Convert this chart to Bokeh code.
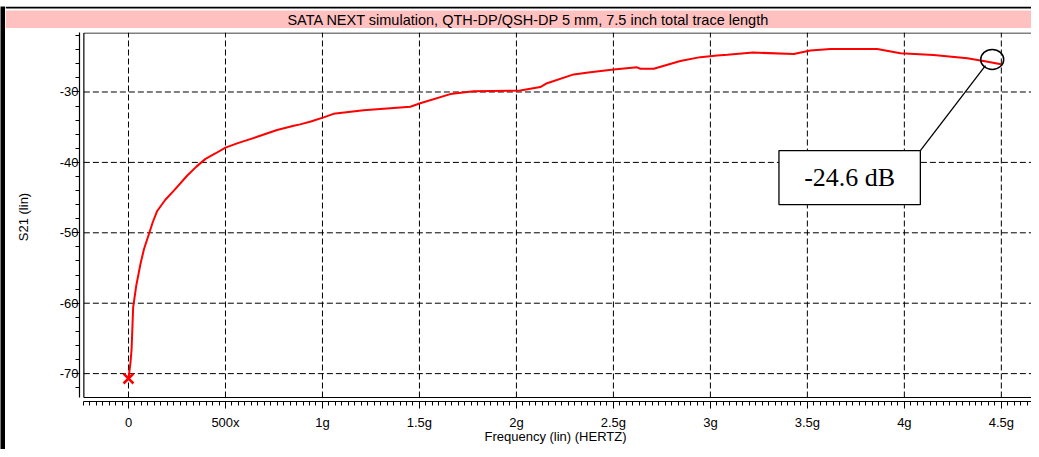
import numpy as np
from bokeh.plotting import figure
from bokeh.layouts import column, row
from bokeh.models import Range1d, FixedTicker, ColumnDataSource
from bokeh.core.properties import value
from bokeh.embed import file_html
from bokeh.resources import INLINE

# ---------------- data ----------------
title_text = "SATA NEXT simulation, QTH-DP/QSH-DP 5 mm, 7.5 inch total trace length"
x_label = "Frequency (lin) (HERTZ)"
y_label = "S21 (lin)"

freq_ghz = [0.0, 0.01, 0.016, 0.024, 0.04, 0.062, 0.08, 0.105, 0.125, 0.148,
            0.19, 0.234, 0.302, 0.35, 0.397, 0.45, 0.5, 0.56, 0.66, 0.766,
            0.852, 0.885, 0.94, 1.006, 1.057, 1.212, 1.453, 1.504, 1.659, 1.779,
            2.02, 2.123, 2.158, 2.295, 2.381, 2.501, 2.622, 2.639, 2.708, 2.845,
            2.948, 3.035, 3.088, 3.22, 3.43, 3.515, 3.62, 3.86, 3.98, 4.15,
            4.325, 4.43, 4.505]
s21_db = [-70.7, -68.5, -66.5, -60.6, -57.5, -54.4, -52.3, -50.2, -48.5, -46.9,
          -45.3, -44.0, -41.9, -40.6, -39.5, -38.7, -37.9, -37.3, -36.4, -35.4,
          -34.8, -34.6, -34.2, -33.6, -33.1, -32.6, -32.1, -31.6, -30.3, -29.9,
          -29.8, -29.3, -28.75, -27.5, -27.2, -26.8, -26.5, -26.7, -26.7, -25.6,
          -25.05, -24.8, -24.7, -24.4, -24.6, -24.1, -23.9, -23.9, -24.5, -24.75,
          -25.2, -25.7, -26.1]

start_marker_x = [0.0]
start_marker_y = [-70.7]

x_major_ticks = [0.0, 0.5, 1.0, 1.5, 2.0, 2.5, 3.0, 3.5, 4.0, 4.5]
x_tick_labels = ["0", "500x", "1g", "1.5g", "2g", "2.5g", "3g", "3.5g", "4g", "4.5g"]
y_major_ticks = [-70, -60, -50, -40, -30]
y_tick_labels = ["-70", "-60", "-50", "-40", "-30"]

callout_text = "-24.6 dB"
callout_point = (4.453, -25.38)      # circled point
callout_box_center = (3.718, -42.15)  # label box centre

# ---------------- layout constants ----------------
X_START, X_END = -0.2526, 4.6555
Y_BOTTOM, Y_TOP = -73.96, -21.55
BOX_LEFT, BOX_BOTTOM, BOX_TOP = -0.2301, -73.39, -21.62
FONT = "Liberation Sans"
STRIP_W = 5
W = 1031 - STRIP_W
H = 449
BAND_H = 28


def no_align(fig):
    if "frame_align" in fig.properties():
        fig.frame_align = False


# ---------------- black left border ----------------
strip = figure(width=STRIP_W, height=H, x_range=Range1d(0, 1), y_range=Range1d(0, 1),
               toolbar_location=None, output_backend="svg",
               x_axis_type=None, y_axis_type=None, min_border=0, min_border_top=6,
               background_fill_color="black", border_fill_color="white",
               outline_line_color=None)
strip.grid.visible = False
no_align(strip)

# ---------------- title band ----------------
band = figure(width=W, height=BAND_H, x_range=Range1d(0, W), y_range=Range1d(0, 22),
              toolbar_location=None, output_backend="svg",
              x_axis_type=None, y_axis_type=None, min_border=0, min_border_top=6,
              background_fill_color="white", border_fill_color="white",
              outline_line_color=None)
band.grid.visible = False
no_align(band)
band.quad(left=[0], right=[W], bottom=[0], top=[18], fill_color="#ffc0c0",
          line_color=None)
band.quad(left=[0], right=[W], bottom=[20], top=[22], fill_color="black",
          line_color=None)
band.text(x=[523], y=[9], text=[title_text], text_align="center",
          text_baseline="middle", text_font=value(FONT), text_font_size="14.5px",
          text_color="black")

# ---------------- main plot ----------------
p = figure(width=W, height=H - BAND_H, x_range=Range1d(X_START, X_END),
           y_range=Range1d(Y_BOTTOM, Y_TOP), toolbar_location=None,
           output_backend="svg", min_border_left=74, min_border_right=0,
           min_border_top=4, min_border_bottom=48,
           background_fill_color="white", border_fill_color="white",
           outline_line_color=None)
p.grid.visible = False
no_align(p)

# grid (dashed), derived from tick values
p.segment(x0=[BOX_LEFT] * len(y_major_ticks), x1=[X_END] * len(y_major_ticks),
          y0=y_major_ticks, y1=y_major_ticks, line_color="black",
          line_width=1, line_dash="6 3")
p.segment(x0=x_major_ticks, x1=x_major_ticks,
          y0=[BOX_BOTTOM] * len(x_major_ticks), y1=[Y_TOP] * len(x_major_ticks),
          line_color="black", line_width=1, line_dash="6 3")

# inner box lines
p.segment(x0=[BOX_LEFT, BOX_LEFT, BOX_LEFT], x1=[BOX_LEFT, X_END, X_END],
          y0=[BOX_BOTTOM, BOX_BOTTOM, BOX_TOP], y1=[BOX_TOP, BOX_BOTTOM, BOX_TOP],
          line_color="black", line_width=1.2)

# curve
src = ColumnDataSource(dict(f=freq_ghz, s=s21_db))
p.line("f", "s", source=src, line_color="#ff0000", line_width=2)
p.scatter(start_marker_x, start_marker_y, marker="x", size=14,
          line_color="#ff0000", line_width=2.5)

# callout
p.ellipse(x=[callout_point[0]], y=[callout_point[1]], width=0.1186, height=2.84,
          fill_color=None, line_color="black", line_width=1.5)
bx, by = callout_box_center
bw, bh = 0.729, 7.67
p.segment(x0=[callout_point[0] - 0.035], y0=[callout_point[1] - 0.86],
          x1=[bx + bw / 2], y1=[by + bh / 2], line_color="black", line_width=1.3)
p.quad(left=[bx - bw / 2], right=[bx + bw / 2], bottom=[by - bh / 2],
       top=[by + bh / 2], fill_color="white", line_color="black", line_width=1.3)
p.text(x=[bx], y=[by], text=[callout_text], text_align="center",
       text_baseline="middle", text_font=value("Liberation Serif"),
       text_font_size="26px", text_color="black")

# axes
x_minor = list(np.arange(-7, 140) / 30.0)
y_minor = list(np.arange(-37, -10) * 2.0)
p.xaxis.ticker = FixedTicker(ticks=x_major_ticks, minor_ticks=x_minor)
p.yaxis.ticker = FixedTicker(ticks=y_major_ticks, minor_ticks=y_minor)
p.xaxis.major_label_overrides = {t: l for t, l in zip(x_major_ticks, x_tick_labels)}
p.yaxis.major_label_overrides = {t: l for t, l in zip(y_major_ticks, y_tick_labels)}
p.xaxis.bounds = (-0.2335, X_END)
p.yaxis.bounds = (BOX_BOTTOM, Y_TOP)

for ax in (p.xaxis[0], p.yaxis[0]):
    ax.axis_line_color = "black"
    ax.axis_line_width = 1.2
    ax.major_tick_line_color = "black"
    ax.minor_tick_line_color = "black"
    ax.major_tick_in = 0
    ax.minor_tick_in = 0
    ax.major_tick_out = 7
    ax.minor_tick_out = 4
    ax.major_label_text_font = FONT
    ax.major_label_text_font_size = "13px"
    ax.major_label_text_color = "black"
    ax.axis_label_text_font = FONT
    ax.axis_label_text_font_size = "13px"
    ax.axis_label_text_font_style = "normal"
    ax.axis_label_text_color = "black"

p.xaxis.axis_label = x_label
p.yaxis.axis_label = y_label
p.xaxis.major_label_standoff = 6
p.yaxis.major_label_standoff = -6
p.xaxis.axis_label_standoff = -4
p.yaxis.axis_label_standoff = 26

layout = row(strip, column(band, p, spacing=0), spacing=0,
             styles={"margin-bottom": "-8px", "margin-right": "-8px"})
open("out.html", "w").write(file_html(layout, INLINE))
